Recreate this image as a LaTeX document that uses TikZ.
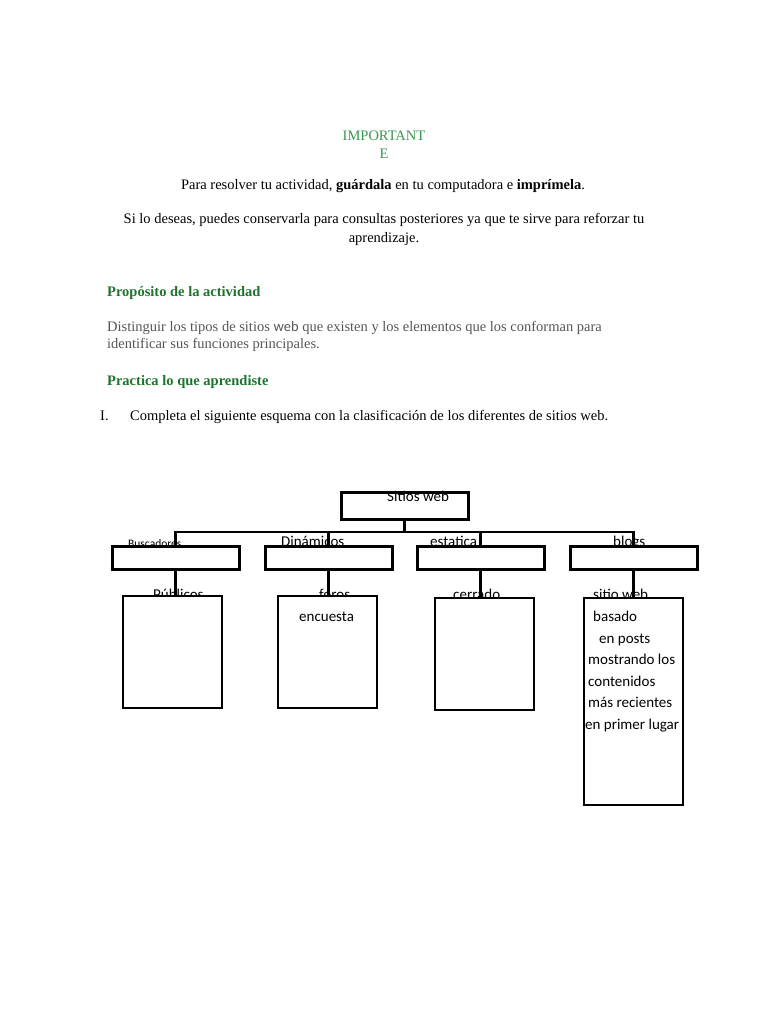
\documentclass[tikz,border=0pt]{standalone}
\usepackage{fontspec}
\setmainfont{Liberation Serif}
\newfontfamily\calib{Carlito}
\definecolor{impgreen}{RGB}{56,150,80}
\definecolor{headgreen}{RGB}{30,115,45}
\definecolor{graytxt}{RGB}{85,85,85}
\begin{document}
\begin{tikzpicture}[x=1pt,y=-1pt,
  txt/.style={inner sep=0pt, font=\fontsize{14.5}{16}\selectfont},
  lbl/.style={inner sep=0pt, font=\calib\fontsize{15}{17}\selectfont, anchor=base west},
  hbox/.style={draw, line width=3pt, fill=white, inner sep=0pt, minimum width=127pt, minimum height=23pt},
  vbox/.style={draw, line width=2.6pt, fill=white, inner sep=0pt, minimum width=99pt},
  conn/.style={line width=2.4pt}]
\useasboundingbox (0,0) rectangle (768,1024);
% header texts
\node[txt, text=impgreen, anchor=base] (imp1) at (384,141) {IMPORTANT};
\node[txt, text=impgreen, anchor=base] (imp2) at (384,159) {E};
\node[txt, anchor=base] (para) at (383,190) {Para resolver tu actividad, \textbf{guárdala} en tu computadora e \textbf{imprímela}.};
\node[txt, anchor=base] (si1) at (384,224) {Si lo deseas, puedes conservarla para consultas posteriores ya que te sirve para reforzar tu};
\node[txt, anchor=base] (si2) at (384,243) {aprendizaje.};
\node[txt, text=headgreen, anchor=base west, font=\bfseries\fontsize{14.5}{16}\selectfont] (prop) at (107,296) {Propósito de la actividad};
\node[txt, text=graytxt, anchor=base west] (dist1) at (107,331) {Distinguir los tipos de sitios {\calib web} que existen y los elementos que los conforman para};
\node[txt, text=graytxt, anchor=base west] (dist2) at (107,348) {identificar sus funciones principales.};
\node[txt, text=headgreen, anchor=base west, font=\bfseries\fontsize{14.5}{16}\selectfont] (prac) at (107,385) {Practica lo que aprendiste};
\node[txt, anchor=base west] (num) at (100,420) {I.};
\node[txt, anchor=base west] (comp) at (130,420) {Completa el siguiente esquema con la clasificación de los diferentes de sitios web.};
% labels above boxes (partly hidden by boxes)
\node[lbl, font=\calib\fontsize{11.5}{13}\selectfont] (lbus) at (128,547) {Buscadores};
\node[lbl] (ldin) at (281,546) {Dinámicos};
\node[lbl] (lest) at (430,546) {estatica};
\node[lbl] (lblo) at (613,546) {blogs};
\node[lbl] (lpub) at (153,599) {Públicos};
\node[lbl] (lfor) at (319,599) {foros};
\node[lbl] (lcer) at (453,599) {cerrado};
\node[lbl] (lsit) at (593,599) {sitio web};
% boxes
\node[hbox, minimum height=27pt] (top) at (404.5,505.5) {};
\begin{scope}
\clip (top.north west) rectangle (top.south east);
\node[lbl] (ltop) at (387,501) {Sitios web};
\end{scope}
\node[hbox] (b1) at (175.5,557.5) {};
\node[hbox] (b2) at (328.5,557.5) {};
\node[hbox] (b3) at (480.5,557.5) {};
\node[hbox] (b4) at (633.5,557.5) {};
\node[vbox, minimum height=112pt] (c1) at (172.5,652) {};
\node[vbox, minimum height=112pt] (c2) at (327.5,652) {};
\node[vbox, minimum height=112pt] (c3) at (484.5,654) {};
\node[vbox, minimum height=207pt] (c4) at (633.5,701.5) {};
% texts inside boxes
\node[lbl] (tenc) at (299,621) {encuesta};
\node[lbl] (t1) at (593,621) {basado};
\node[lbl] (t2) at (599,643) {en posts};
\node[lbl] (t3) at (588,664) {mostrando los};
\node[lbl] (t4) at (588,686) {contenidos};
\node[lbl] (t5) at (588,707) {más recientes};
\node[lbl] (t6) at (585,729) {en primer lugar};
% connectors
\coordinate (bar) at (404.5,532);
\draw[conn] (top.south) -- (bar);
\draw[conn] (b1.north) |- (bar) -| (b4.north);
\draw[conn] (b2.north) -- (b2.north |- bar);
\draw[conn] (b3.north) -- (b3.north |- bar);
\draw[conn] (b1.south) -- (b1.south |- c1.north);
\draw[conn, line width=3pt] (b2.south) -- (b2.south |- c2.north);
\draw[conn] (b3.south) -- (b3.south |- c3.north);
\draw[conn, line width=3pt] (b4.south) -- (b4.south |- c4.north);
\end{tikzpicture}
\end{document}
